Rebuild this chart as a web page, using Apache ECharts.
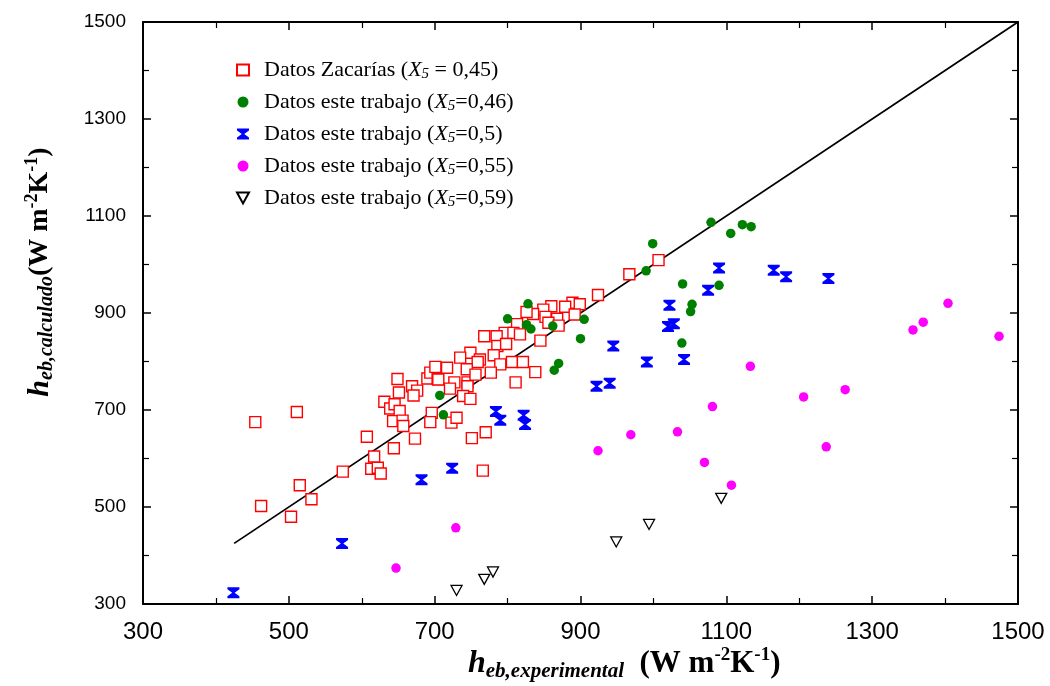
<!DOCTYPE html>
<html>
<head>
<meta charset="utf-8">
<script src="https://cdn.jsdelivr.net/npm/echarts@6/dist/echarts.min.js"></script>
<style>
  html, body { margin: 0; padding: 0; background: #fff; }
  #chart { width: 1050px; height: 686px; }
</style>
</head>
<body>
<div id="chart"></div>
<script>
// Heat transfer coefficients: experimental (x) vs calculated (y), W m-2 K-1
const zacarias = [
  [454,675],[511,696],[462,502],[503,480],[515,545],[531,516],[574,573],[613,579],
  [622,581],[626,569],[617,604],[644,621],[607,645],[673,641],[631,717],[639,703],
  [645,712],[652,698],[643,677],[656,678],[657,667],[649,764],[669,749],[676,740],
  [671,730],[651,736],[690,765],[694,777],[701,789],[704,764],[696,694],[694,675],
  [766,575],[967,980],[1007,1009],[924,937],[889,921],[899,918],[879,913],[860,914],
  [849,907],[835,898],[826,902],[892,897],[852,892],[868,888],[856,880],[870,874],
  [813,877],[796,859],[808,859],[817,856],[768,852],[785,852],[845,843],[786,832],
  [798,836],[749,818],[735,808],[762,804],[759,799],[781,813],[790,794],[806,799],
  [821,799],[838,778],[811,757],[717,787],[744,784],[705,763],[727,757],[745,757],
  [756,773],[777,777],[745,749],[721,744],[739,729],[749,723],[723,674],[730,684],
  [770,654],[751,642]
];
const trabajo046 = [
  [707,730],[712,690],[800,888],[828,919],[826,876],[832,867],[862,873],[864,782],
  [870,796],[900,847],[905,887],[990,987],[999,1043],[1039,838],[1040,960],[1051,903],
  [1053,918],[1079,1087],[1090,957],[1106,1064],[1122,1082],[1134,1078]
];
const trabajo050 = [
  [424,323],[573,425],[682,556],[724,580],[784,697],[790,679],[822,689],[824,670],
  [922,749],[940,755],[945,832],[991,799],[1020,872],[1028,878],[1022,916],[1042,804],
  [1075,947],[1090,993],[1165,988],[1182,975],[1240,971]
];
const trabajo055 = [
  [647,374],[729,457],[924,616],[969,649],[1033,655],[1070,592],[1081,707],[1107,545],
  [1133,790],[1206,727],[1237,624],[1263,742],[1356,865],[1370,881],[1404,920],[1474,852]
];
const trabajo059 = [
  [730,328],[768,351],[780,366],[949,428],[994,464],[1093,518]
];
// y = x reference line
const parityLine = [[425,425],[1500,1500]];

const seriesNames = [
  'Datos Zacarías (X5 = 0,45)',
  'Datos este trabajo (X5=0,46)',
  'Datos este trabajo (X5=0,5)',
  'Datos este trabajo (X5=0,55)',
  'Datos este trabajo (X5=0,59)'
];
const axisMin = 300, axisMax = 1500, axisStep = 200;

const bowtie = 'path://M0,0H12V2L7.2,5.5L12,9V11H0V9L4.8,5.5L0,2Z';
const downTriangle = 'path://M0,0H11L5.5,10Z';
const serif = "'Liberation Serif','Times New Roman',serif";
const sans = "'Liberation Sans',Arial,sans-serif";

function axisCommon(extra) {
  return Object.assign({
    type: 'value', min: axisMin, max: axisMax, interval: axisStep,
    axisLine: { show: true, onZero: false, lineStyle: { color: '#000', width: 2 } },
    axisTick: { show: true, inside: true, length: 8, lineStyle: { color: '#000', width: 1.5 } },
    minorTick: { show: true, splitNumber: 2, length: 6, lineStyle: { color: '#000', width: 1.2 } },
    splitLine: { show: false },
    minorSplitLine: { show: false }
  }, extra);
}
const plainNumber = v => String(v);

const chart = echarts.init(document.getElementById('chart'));
chart.setOption({
  animation: false,
  backgroundColor: '#fff',
  grid: { left: 143, right: 32, top: 22, bottom: 82, containLabel: false },
  xAxis: [
    axisCommon({ position: 'bottom',
      axisLabel: { margin: 16, color: '#000', fontSize: 24, fontFamily: sans, formatter: plainNumber } }),
    axisCommon({ position: 'top', axisLabel: { show: false } })
  ],
  yAxis: [
    axisCommon({ position: 'left',
      axisLabel: { margin: 17, color: '#000', fontSize: 19, fontFamily: sans, formatter: plainNumber } }),
    axisCommon({ position: 'right', axisLabel: { show: false } })
  ],
  legend: {
    orient: 'vertical', left: 231, top: 53,
    itemWidth: 12, itemHeight: 11, itemGap: 8,
    symbolKeepAspect: true,
    data: seriesNames,
    formatter: function (name) {
      const parts = name.split('(X5');
      return '{t|' + parts[0] + '(}{i|X}{s|5}{t|' + parts[1] + '}';
    },
    textStyle: {
      color: '#000', fontFamily: serif, fontSize: 22, lineHeight: 24,
      padding: [0, 0, 0, 10],
      rich: {
        t: { fontFamily: serif, fontSize: 22, lineHeight: 24, color: '#000' },
        i: { fontFamily: serif, fontSize: 22, lineHeight: 24, fontStyle: 'italic', color: '#000' },
        s: { fontFamily: serif, fontSize: 15, lineHeight: 10, fontStyle: 'italic', verticalAlign: 'bottom', color: '#000' }
      }
    }
  },
  graphic: [
    {
      type: 'text', x: 468, y: 664,
      style: {
        text: '{h|h}{sb|eb,experimental}{n|  (W m}{sp|-2}{n|K}{sp|-1}{n|)}',
        align: 'left', verticalAlign: 'middle',
        textAlign: 'left', textVerticalAlign: 'middle',
        rich: {
          h: { fontFamily: serif, fontSize: 32, fontWeight: 'bold', fontStyle: 'italic', lineHeight: 36, fill: '#000' },
          sb: { fontFamily: serif, fontSize: 21, fontWeight: 'bold', fontStyle: 'italic', lineHeight: 12, verticalAlign: 'bottom', fill: '#000' },
          n: { fontFamily: serif, fontSize: 31, fontWeight: 'bold', lineHeight: 36, fill: '#000' },
          sp: { fontFamily: serif, fontSize: 19, fontWeight: 'bold', lineHeight: 14, verticalAlign: 'top', fill: '#000' }
        }
      }
    },
    {
      type: 'text', x: 40, y: 272, rotation: Math.PI / 2,
      style: {
        text: '{h|h}{sb|eb,calculado}{n|(W m}{sp|-2}{n|K}{sp|-1}{n|)}',
        align: 'center', verticalAlign: 'middle',
        textAlign: 'center', textVerticalAlign: 'middle',
        rich: {
          h: { fontFamily: serif, fontSize: 30, fontWeight: 'bold', fontStyle: 'italic', lineHeight: 34, fill: '#000' },
          sb: { fontFamily: serif, fontSize: 20, fontWeight: 'bold', fontStyle: 'italic', lineHeight: 12, verticalAlign: 'bottom', fill: '#000' },
          n: { fontFamily: serif, fontSize: 28, fontWeight: 'bold', lineHeight: 34, fill: '#000' },
          sp: { fontFamily: serif, fontSize: 18, fontWeight: 'bold', lineHeight: 12, verticalAlign: 'top', fill: '#000' }
        }
      }
    }
  ],
  series: [
    {
      name: 'y = x', type: 'line', data: parityLine, symbol: 'none', silent: true,
      lineStyle: { color: '#000', width: 1.8 }, z: 1
    },
    {
      name: seriesNames[0], type: 'scatter', data: zacarias, symbol: 'rect', symbolSize: 11,
      itemStyle: { color: '#fff', borderColor: '#ff0000', borderWidth: 1.4, opacity: 1 }, z: 2
    },
    {
      name: seriesNames[1], type: 'scatter', data: trabajo046, symbol: 'circle', symbolSize: 9.5,
      itemStyle: { color: '#008000', opacity: 1 }, z: 3
    },
    {
      name: seriesNames[2], type: 'scatter', data: trabajo050, symbol: bowtie, symbolSize: [12, 11],
      itemStyle: { color: '#0000ff', opacity: 1 }, z: 3
    },
    {
      name: seriesNames[3], type: 'scatter', data: trabajo055, symbol: 'circle', symbolSize: 9.5,
      itemStyle: { color: '#ff00ff', opacity: 1 }, z: 3
    },
    {
      name: seriesNames[4], type: 'scatter', data: trabajo059, symbol: downTriangle, symbolSize: [11, 10],
      itemStyle: { color: '#fff', borderColor: '#000', borderWidth: 1.3, opacity: 1 }, z: 3
    }
  ]
});
</script>
</body>
</html>
